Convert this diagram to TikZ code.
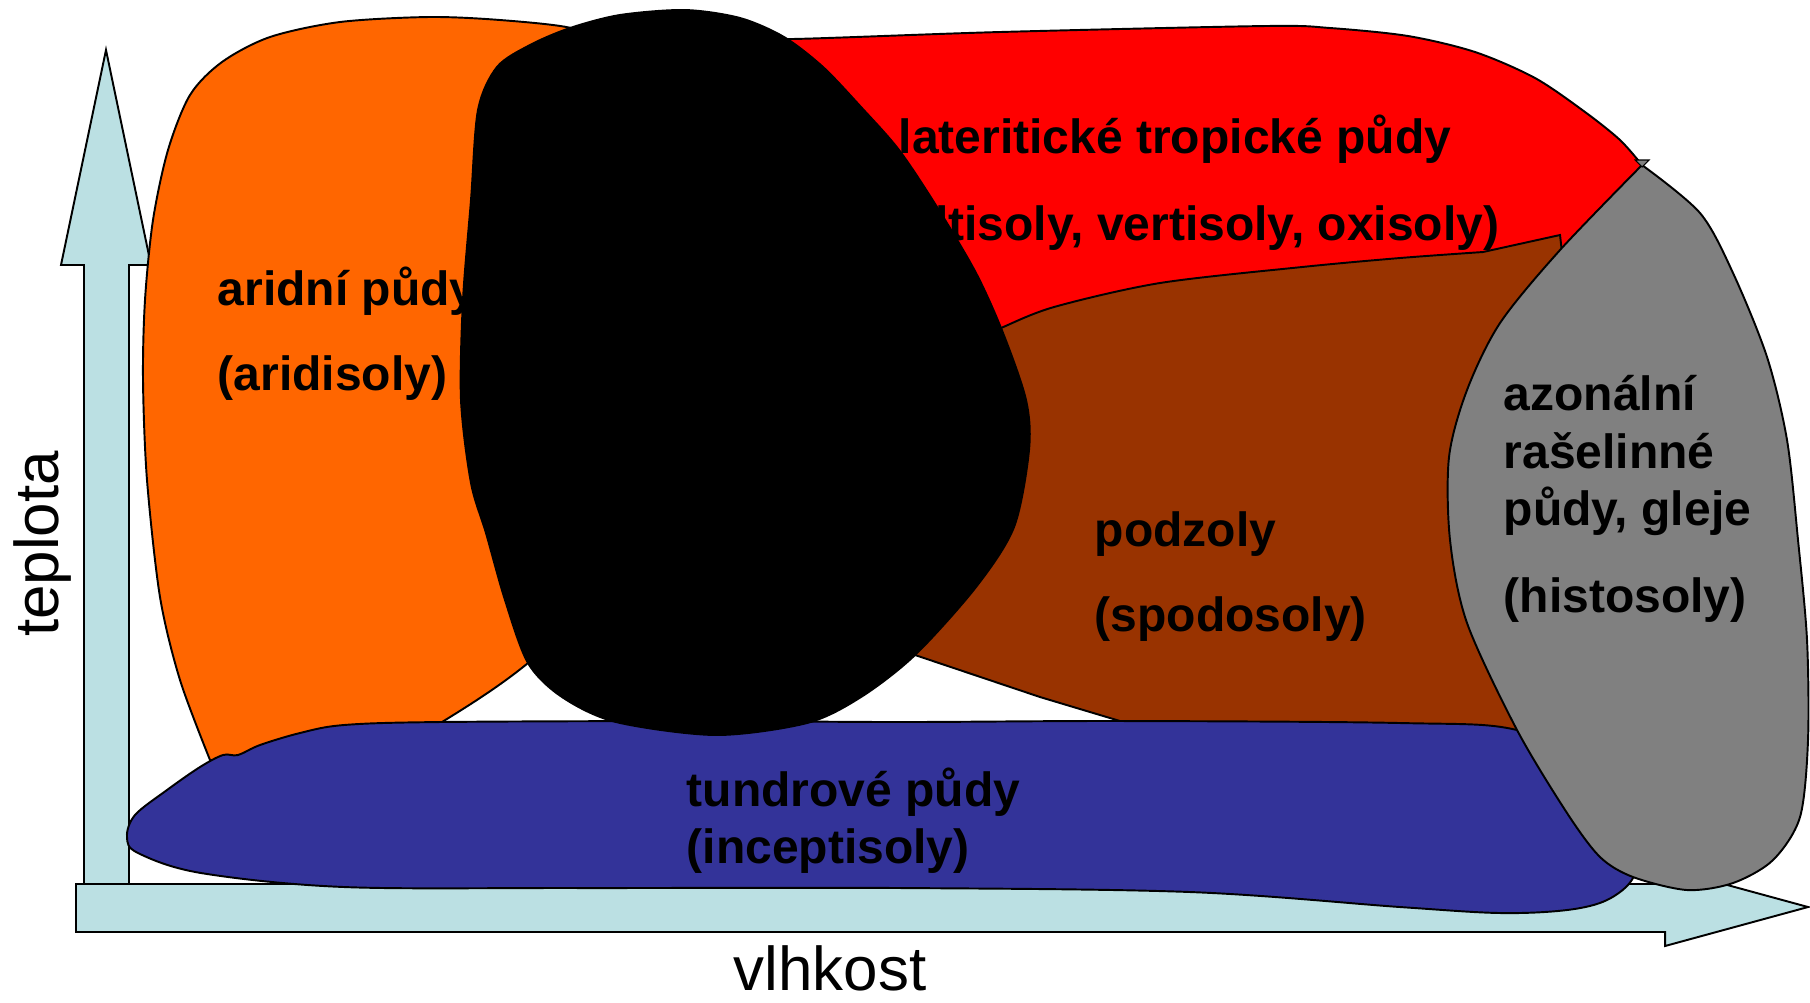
\documentclass[tikz,border=0pt]{standalone}
\usepackage{fontspec}
\setmainfont{Liberation Sans}
\usepackage{xcolor}
\usepackage{tikz}
\definecolor{axisblue}{RGB}{187,224,227}
\definecolor{aridorange}{RGB}{255,102,0}
\definecolor{podzolbrown}{RGB}{153,51,0}
\definecolor{tundrablue}{RGB}{51,51,153}
\definecolor{peatgray}{RGB}{128,128,128}

\begin{document}
\begin{tikzpicture}[x=0.01cm,y=-0.01cm,
soil/.style={draw=black,line width=0.55pt},
soiltext/.style={anchor=base west,font=\fontsize{13.66}{16}\selectfont\bfseries},
axistext/.style={anchor=base,font=\fontsize{17.6}{20}\selectfont}]
\tikzstyle{every node}+=[inner sep=0pt]
\useasboundingbox (0,0) rectangle (1810,1002);
\draw [soil,fill=axisblue] (84,884) -- (84,265) -- (61,265) -- (106,50) -- (151,265) -- (129,265) -- (129,884) -- cycle;
\draw [soil,fill=axisblue] (76,884) -- (1665,884) -- (1665,868) -- (1808,907) -- (1665,946) -- (1665,932) -- (76,932) -- cycle;
\node (ylabel) [axistext,rotate=90] at (58,544) {teplota};
\node (xlabel) [axistext] at (830,990) {vlhkost};
\draw [soil,fill=aridorange] plot[smooth] coordinates {(600,45) (571,28) (500,20) (429,17) (340,22) (270,37) (222,62) (190,95) (168,150) (153,220) (145,300) (143,380) (147,480) (160,597) (180,680) (210,760)} -- (440,762) -- (442,722) .. controls (468,706) and (500,686) .. (528,663) -- (560,600) -- (560,100) -- cycle;
\draw [soil,fill=red] plot[smooth] coordinates {(760,36) (792,39) (1000,32) (1266,26) (1330,28) (1408,36) (1475,52) (1535,78) (1585,112) (1620,140) (1642,165)} -- (1610,330) -- (1000,430) -- (760,430) -- cycle;
\draw [soil,fill=podzolbrown] plot[smooth] coordinates {(985,336) (1001,328) (1054,307) (1160,283) (1302,267) (1400,258) (1483,252)} -- (1560,235) -- (1563,262) -- (1560,420) -- (1530,700) -- (1517,745) -- (1160,733) -- (1040,697) -- (915,655) -- (950,500) -- cycle;
\draw [soil,fill=tundrablue] plot[smooth cycle,tension=0.55] coordinates {(223,755) (238,755) (260,745) (300,733) (344,725) (440,722) (700,721) (900,722) (1120,721) (1400,723) (1517,730) (1600,770) (1640,840) (1633,878) (1607,900) (1567,910) (1500,913) (1400,907) (1190,892) (900,888) (574,888) (344,887) (201,873) (138,853) (127,837) (135,815) (167,790) (200,767)};
\node (aridA) [soiltext] at (217,305) {aridní půdy};
\node (aridB) [soiltext] at (217,390) {(aridisoly)};
\node (latA) [soiltext] at (898,153) {lateritické tropické půdy};
\node (latB) [soiltext] at (889,240) {(ultisoly, vertisoly, oxisoly)};
\draw [soil,fill=black] plot[smooth cycle] coordinates {(685,10) (740,18) (784,37) (823,67) (861,107) (899,150) (937,207) (976,273) (1003,333) (1026,400) (1029,450) (1014,527) (976,587) (915,655) (861,697) (807,723) (716,735) (616,722) (562,697) (528,663) (505,600) (486,533) (471,483) (461,400) (463,300) (471,200) (478,110) (497,67) (530,45) (570,28) (620,15)};
\draw [soil,fill=peatgray] (1642,165) plot[smooth] coordinates {(1642,165) (1700,213) (1733,273) (1767,357) (1787,440) (1798,540) (1807,640) (1808,740) (1800,817) (1773,860) (1733,883) (1687,890) (1633,877) (1600,857) (1567,813) (1517,730) (1467,623) (1450,540) (1449,457) (1467,390) (1500,323) (1560,250) (1642,165)} -- cycle;
\draw [fill=peatgray,line width=0.3pt] (1635,160) -- (1649,160) -- (1642,167) -- cycle;
\node (podA) [soiltext] at (1094,546) {podzoly};
\node (podB) [soiltext] at (1094,631) {(spodosoly)};
\node (tunA) [soiltext] at (686,806) {tundrové půdy};
\node (tunB) [soiltext] at (686,863) {(inceptisoly)};
\node (azoA) [soiltext] at (1503,410) {azonální};
\node (azoB) [soiltext] at (1503,468) {rašelinné};
\node (azoC) [soiltext] at (1503,525) {půdy, gleje};
\node (azoD) [soiltext] at (1503,612) {(histosoly)};
\end{tikzpicture}
\end{document}
